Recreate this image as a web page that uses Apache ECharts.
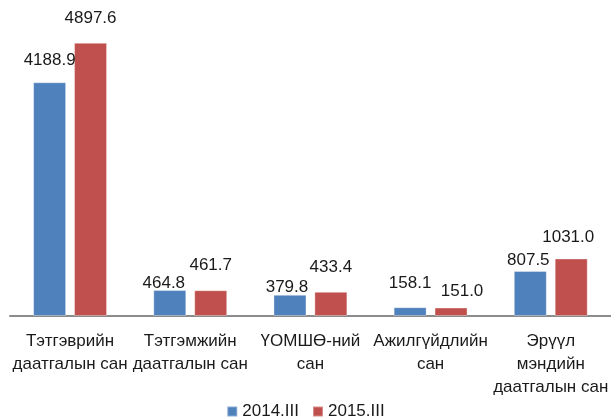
<!DOCTYPE html>
<html>
<head>
<meta charset="utf-8">
<script src="https://cdn.jsdelivr.net/npm/echarts@6/dist/echarts.min.js"></script>
<style>
  html, body { margin: 0; padding: 0; background: #fff; }
  #chart { width: 611px; height: 418px; }
</style>
</head>
<body>
<div id="chart"></div>
<script>
    var categories = ['Тэтгэврийн\nдаатгалын сан', 'Тэтгэмжийн\nдаатгалын сан', 'ҮОМШӨ-ний\nсан', 'Ажилгүйдлийн\nсан', 'Эрүүл\nмэндийн\nдаатгалын сан'];
    var seriesNames = ['2014.III', '2015.III'];
    var values2014 = [4188.9, 464.8, 379.8, 158.1, 807.5];
    var values2015 = [4897.6, 461.7, 433.4, 151.0, 1031.0];

    // label nudges, like the hand-moved labels in the original
    var shift2014 = [[0, 0], [-6, 15], [-3, 14], [0, -2], [-2, 11]];
    var shift2015 = [[0, -3], [0, -3], [0, -3], [11, 5], [-3, 0]];

    function build(vals, shift) {
        var out = [];
        for (var i = 0; i < vals.length; i++) {
            out.push({value: vals[i], label: {offset: shift[i]}});
        }
        return out;
    }

    var font = 'Liberation Sans, Arial, sans-serif';
    var chart = echarts.init(document.getElementById('chart'));

    var labelStyle = {
        show: true,
        position: 'top',
        distance: 13,
        fontFamily: font,
        fontSize: 17,
        color: '#1a1a1a',
        formatter: function (p) { return p.value.toFixed(1); }
    };

    chart.setOption({
        animation: false,
        grid: {left: 10, right: -3, top: 37, bottom: 102},
        legend: {
            top: 398,
            left: 'center',
            itemWidth: 10,
            itemHeight: 10,
            itemGap: 13,
            icon: 'rect',
            textStyle: {fontFamily: font, fontSize: 17, color: '#1a1a1a'},
            data: seriesNames
        },
        xAxis: {
            type: 'category',
            data: categories,
            axisLine: {lineStyle: {color: '#8c8c8c', width: 2}},
            axisTick: {show: false},
            axisLabel: {
                interval: 0,
                margin: 14,
                fontFamily: font,
                fontSize: 17,
                lineHeight: 23,
                color: '#1a1a1a'
            }
        },
        yAxis: {
            type: 'value',
            min: 0,
            max: 5000,
            show: false,
            splitLine: {show: false}
        },
        series: [
            {
                name: seriesNames[0],
                type: 'bar',
                barWidth: 33,
                barGap: '24%',
                itemStyle: {color: '#4F81BD', borderColor: 'rgba(255,255,255,0.35)', borderWidth: 1},
                label: labelStyle,
                data: build(values2014, shift2014)
            },
            {
                name: seriesNames[1],
                type: 'bar',
                barWidth: 33,
                barGap: '24%',
                itemStyle: {color: '#C0504D', borderColor: 'rgba(255,255,255,0.35)', borderWidth: 1},
                label: labelStyle,
                data: build(values2015, shift2015)
            }
        ]
    });
</script>
</body>
</html>
